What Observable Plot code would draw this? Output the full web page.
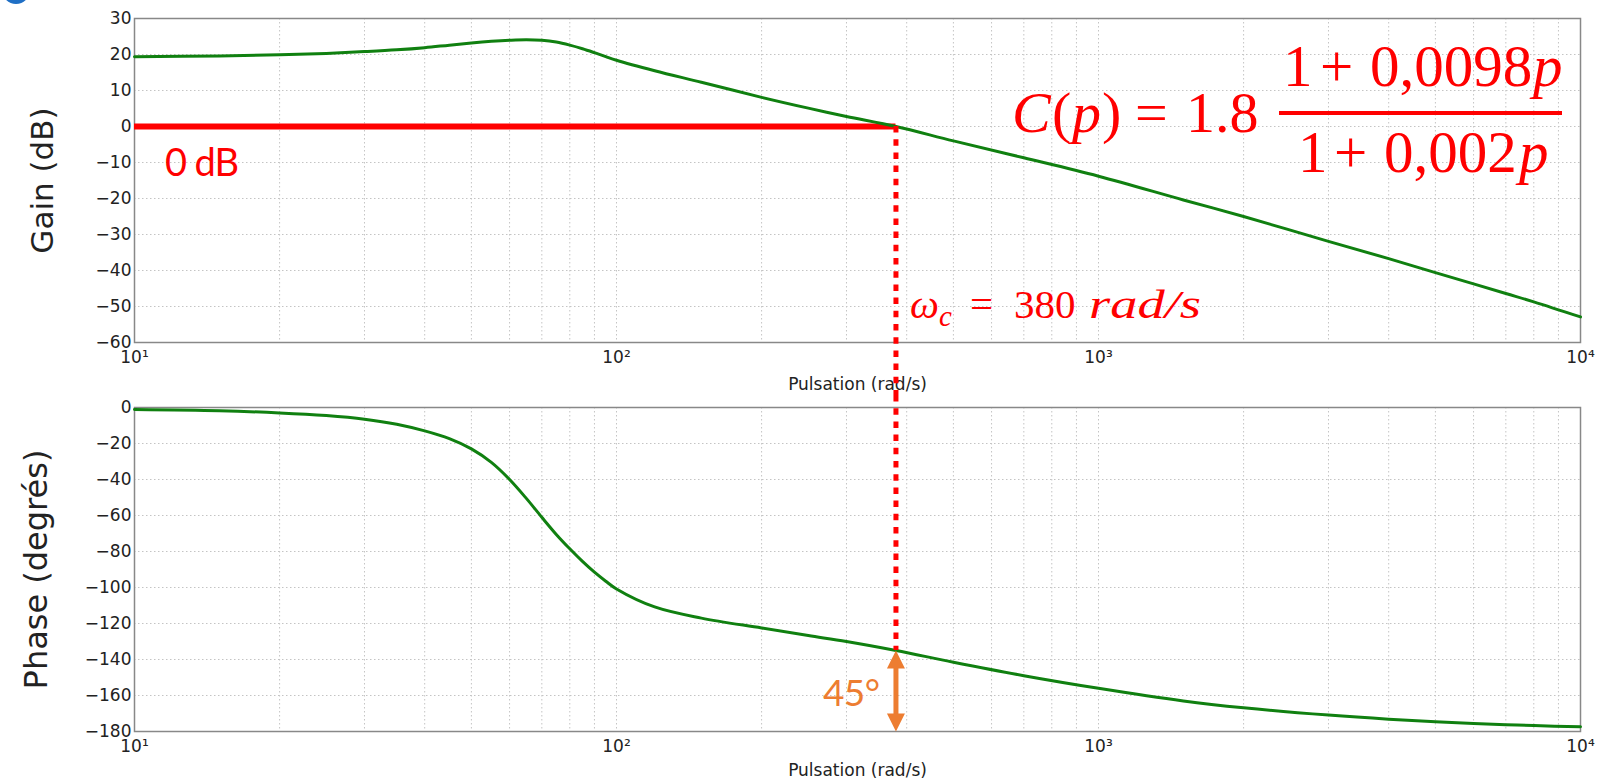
<!DOCTYPE html>
<html><head><meta charset="utf-8">
<script src="https://cdn.jsdelivr.net/npm/d3@7"></script>
<script src="https://cdn.jsdelivr.net/npm/@observablehq/plot@0.6"></script>
<style>
html,body{margin:0;padding:0;background:#fff;}
#chart{position:relative;width:1600px;height:782px;overflow:hidden;background:#fff;}
#chart svg{display:block;overflow:visible;}
#overlay{position:absolute;left:0;top:0;pointer-events:none;}
</style></head><body><div id="chart"></div>
<script>
// ---- data ----
const omega    = [10, 15, 20, 25, 30, 35, 40, 45, 50, 55, 60, 65, 70, 75, 80, 85, 90, 95, 100, 120, 150, 200, 250, 300, 380, 500, 700, 1000, 1500, 2000, 3000, 4000, 5000, 6000, 7000, 8000, 10000];
const gainDb   = [19.4, 19.6, 19.9, 20.3, 20.8, 21.3, 21.9, 22.6, 23.2, 23.65, 23.95, 24.1, 23.95, 23.45, 22.6, 21.6, 20.5, 19.4, 18.4, 15.5, 12.3, 8.1, 5.1, 2.8, 0.0, -4.0, -8.7, -13.8, -20.4, -25.0, -31.9, -36.7, -40.6, -43.7, -46.4, -48.7, -52.9];
const phaseDeg = [-1.1, -1.8, -3.0, -4.5, -6.5, -9.3, -13.0, -17.3, -23.0, -30.5, -40.0, -50.5, -61.0, -70.5, -78.5, -85.5, -91.5, -96.5, -100.8, -110.8, -117.0, -122.5, -126.7, -130.0, -135.0, -141.5, -149.0, -156.0, -163.0, -166.8, -170.9, -173.2, -174.6, -175.5, -176.2, -176.7, -177.4];
const gainTicks  = [-60, -50, -40, -30, -20, -10, 0, 10, 20, 30];
const phaseTicks = [-180, -160, -140, -120, -100, -80, -60, -40, -20, 0];
const decadeTicks  = [10, 100, 1000, 10000];
const decadeLabels = ["10¹", "10²", "10³", "10⁴"];
const minorSteps   = [2, 3, 4, 5, 6, 7, 8, 9];
const crossoverOmega = [380];
const zeroDb = [0];
const phaseAtCrossover = [-135];
const phaseFloor = [-180];
const xLabel = "Pulsation (rad/s)";
const gainLabel = "Gain (dB)";
const phaseLabel = "Phase (degrés)";

// ---- build ----
const data = omega.map((w, i) => ({w, gain: gainDb[i], phase: phaseDeg[i]}));
const minorTicks = decadeTicks.slice(0, 3).flatMap(d => minorSteps.map(k => k * d));
const gridStyle = {stroke: "#c4c4c4", strokeDasharray: "1.5,2.5", strokeOpacity: 1, strokeWidth: 1};
const green = "#108010", red = "#ff0000", orange = "#ED7D31";
const common = {
  width: 1600, marginLeft: 134, marginRight: 20,
  x: {type: "log", domain: [10, 10000]},
  style: {fontFamily: "'DejaVu Sans', sans-serif", fontSize: "17px", color: "#222", background: "transparent", overflow: "visible"}
};
const xAxis = Plot.axisX(decadeTicks, {tickSize: 0, tickPadding: 8, fontSize: 17, label: null,
  tickFormat: (d) => decadeLabels[decadeTicks.indexOf(d)]});

const topPlot = Plot.plot({
  ...common, height: 395, marginTop: 18, marginBottom: 53,
  y: {domain: [-60, 30]},
  marks: [
    Plot.gridX(minorTicks.concat(decadeTicks), gridStyle),
    Plot.gridY(gainTicks, gridStyle),
    Plot.axisY(gainTicks, {tickSize: 0, tickPadding: 3, label: null}),
    xAxis,
    Plot.frame({stroke: "#888", strokeWidth: 1.5}),
    Plot.text([xLabel], {frameAnchor: "bottom", dy: 42, lineAnchor: "middle", textAnchor: "middle", fontSize: 17}),
    Plot.text([gainLabel], {frameAnchor: "left", rotate: -90, dx: -91, lineAnchor: "middle", textAnchor: "middle", fontSize: 31}),
    Plot.ruleY(zeroDb, {x1: omega[0], x2: crossoverOmega[0], stroke: red, strokeWidth: 6}),
    Plot.line(data, {x: "w", y: "gain", stroke: green, strokeWidth: 3, curve: "catmull-rom"}),
    Plot.ruleX(crossoverOmega, {y1: zeroDb[0], y2: -60, insetBottom: -53, stroke: red, strokeWidth: 5, strokeDasharray: "6.5,6.7"})
  ]
});

const headUp = {draw(ctx) { ctx.moveTo(0, 0); ctx.lineTo(9, 18); ctx.lineTo(-9, 18); ctx.closePath(); }};
const headDown = {draw(ctx) { ctx.moveTo(0, 0); ctx.lineTo(9, -18); ctx.lineTo(-9, -18); ctx.closePath(); }};

const botPlot = Plot.plot({
  ...common, height: 387, marginTop: 12, marginBottom: 51,
  y: {domain: [-180, 0]},
  marks: [
    Plot.gridX(minorTicks.concat(decadeTicks), gridStyle),
    Plot.gridY(phaseTicks, gridStyle),
    Plot.axisY(phaseTicks, {tickSize: 0, tickPadding: 3, label: null}),
    xAxis,
    Plot.frame({stroke: "#888", strokeWidth: 1.5}),
    Plot.text([xLabel], {frameAnchor: "bottom", dy: 39, lineAnchor: "middle", textAnchor: "middle", fontSize: 17}),
    Plot.text([phaseLabel], {frameAnchor: "left", rotate: -90, dx: -98, lineAnchor: "middle", textAnchor: "middle", fontSize: 32}),
    Plot.line(data, {x: "w", y: "phase", stroke: green, strokeWidth: 3, curve: "catmull-rom"}),
    Plot.ruleX(crossoverOmega, {y1: 0, y2: phaseAtCrossover[0], insetTop: -12, stroke: red, strokeWidth: 5, strokeDasharray: "6.5,6.7"}),
    Plot.ruleX(crossoverOmega, {y1: phaseAtCrossover[0], y2: phaseFloor[0], insetTop: 14, insetBottom: 14, stroke: orange, strokeWidth: 5}),
    Plot.dot(crossoverOmega, {x: d => d, y: phaseAtCrossover, symbol: headUp, fill: orange, stroke: "none"}),
    Plot.dot(crossoverOmega, {x: d => d, y: phaseFloor, symbol: headDown, fill: orange, stroke: "none"})
  ]
});

const chart = document.getElementById("chart");
chart.appendChild(topPlot);
chart.appendChild(botPlot);

// ---- annotations overlay ----
const ov = d3.select(chart).append("svg").attr("id", "overlay").attr("width", 1600).attr("height", 782);
ov.append("circle").attr("cx", 16).attr("cy", -10).attr("r", 14).attr("fill", "#1F6FC5");
const serif = "'Liberation Serif', 'DejaVu Serif', serif";
// one <text> per row, pieces placed with tspans at their natural widths: [text, x, width|null, italic, extra attrs]
function mathRow(y, size, pieces) {
  const t = ov.append("text").attr("y", y).attr("fill", red)
    .attr("font-family", serif).attr("font-size", size);
  for (const [s, x, w, it, extra] of pieces) {
    const sp = t.append("tspan").attr("x", x).text(s);
    if (w) sp.attr("textLength", w).attr("lengthAdjust", "spacingAndGlyphs");
    if (it) sp.attr("font-style", "italic");
    if (extra) for (const k in extra) sp.attr(k, extra[k]);
  }
  return t;
}
mathRow(132, 58, [["C", 1012, null, true], ["(", 1052, null, false], ["p", 1072, null, true], [")", 1102, null, false], ["=", 1135, null, false], ["1.8", 1186, null, false]]);
mathRow(86, 59, [["1", 1283, null, false], ["+", 1320, null, false], ["0,0098", 1370, null, false], ["p", 1533, null, true]]);
ov.append("rect").attr("x", 1279).attr("y", 111).attr("width", 283).attr("height", 4).attr("fill", red);
mathRow(172, 59, [["1", 1298, null, false], ["+", 1334, null, false], ["0,002", 1384, null, false], ["p", 1519, null, true]]);
mathRow(318, 41, [["ω", 910, null, true], ["c", 939, null, true, {"font-size": 29, dy: 8}], ["=", 970, null, false, {dy: -8}], ["380", 1014, null, false], ["rad/s", 1089, 112, true]]);
ov.append("text").attr("x", 165).attr("y", 176).attr("fill", red).attr("font-family", "Lato, 'Open Sans', sans-serif")
  .attr("font-size", 38).attr("textLength", 74).attr("lengthAdjust", "spacing").text("0 dB");
ov.append("text").attr("x", 823).attr("y", 706).attr("fill", orange).attr("font-family", "Lato, 'Open Sans', sans-serif")
  .attr("font-size", 37).attr("textLength", 57).attr("lengthAdjust", "spacing").text("45°");
</script></body></html>
